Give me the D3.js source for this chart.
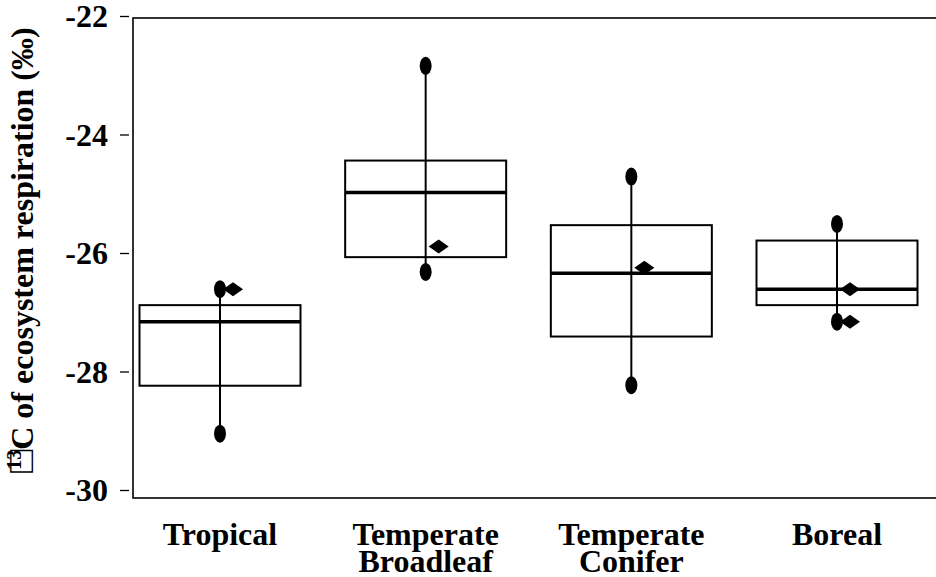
<!DOCTYPE html>
<html>
<head>
<meta charset="utf-8">
<script src="https://cdn.jsdelivr.net/npm/d3@7"></script>
<style>
  body { margin: 0; background: #fff; }
  text { font-family: "Liberation Serif", "Times New Roman", serif; font-weight: bold; fill: #000; }
</style>
</head>
<body>
<div id="chart"></div>
<script>
// values
var categories = ["Tropical", "Temperate Broadleaf", "Temperate Conifer", "Boreal"];
var boxLow    = [-28.24, -26.07, -27.41, -26.88];
var boxHigh   = [-26.88, -24.44, -25.53, -25.79];
var medians   = [-27.16, -24.98, -26.34, -26.61];
var pointHigh = [-26.61, -22.84, -24.71, -25.51];
var pointLow  = [-29.05, -26.32, -28.23, -27.16];
var diamondCat = ["Tropical", "Temperate Broadleaf", "Temperate Conifer", "Boreal", "Boreal"];
var diamondVal = [-26.61, -25.89, -26.25, -26.61, -27.16];
var yTicks = [-22, -24, -26, -28, -30];

var width = 936, height = 577;

var svg = d3.select("#chart")
  .append("svg")
  .attr("width", width)
  .attr("height", height);

var x = d3.scalePoint()
  .domain(categories)
  .range([220, 837]);

var y = d3.scaleLinear()
  .domain([-30, -22])
  .range([490, 16]);

var boxW = 161;

// frame (right edge runs off the picture)
svg.append("rect")
  .attr("x", 133)
  .attr("y", 18)
  .attr("width", 820)
  .attr("height", 480)
  .attr("fill", "none")
  .attr("stroke", "#000")
  .attr("stroke-width", 1.6);

// y axis: ticks sit outside the frame with a small gap
var yAxis = d3.axisLeft(y)
  .tickValues(yTicks)
  .tickSize(9)
  .tickPadding(12)
  .tickFormat(function(d) { return String(d); });

var ga = svg.append("g")
  .attr("transform", "translate(129,0)")
  .call(yAxis);
ga.select(".domain").remove();
ga.selectAll(".tick line").attr("stroke", "#000").attr("stroke-width", 1.3);
ga.selectAll(".tick text")
  .attr("font-size", 32)
  .attr("font-family", "Liberation Serif")
  .attr("font-weight", "bold")
  .attr("fill", "#000")
  .attr("dy", "0.34em");

// y title
var yt = svg.append("text")
  .attr("transform", "translate(33,250) rotate(-90)")
  .attr("text-anchor", "middle")
  .attr("font-size", 32);
yt.append("tspan").attr("font-size", 38).attr("font-weight", "normal").text("\u25A1");
yt.append("tspan").attr("font-size", 20).attr("dy", -12).attr("dx", -20).text("13");
yt.append("tspan").attr("dy", 12).text("C of ecosystem respiration (\u2030)");

// category labels
var gl = svg.append("g");
categories.forEach(function(c) {
  var words = c.split(" ");
  var t = gl.append("text")
    .attr("x", x(c))
    .attr("y", 545)
    .attr("text-anchor", "middle")
    .attr("font-size", 32);
  words.forEach(function(w, i) {
    t.append("tspan")
      .attr("x", x(c))
      .attr("dy", i === 0 ? 0 : 27)
      .text(w);
  });
});

// boxes
var g = svg.append("g");
categories.forEach(function(c, i) {
  var cx = x(c);
  g.append("rect")
    .attr("x", cx - boxW / 2)
    .attr("y", y(boxHigh[i]))
    .attr("width", boxW)
    .attr("height", y(boxLow[i]) - y(boxHigh[i]))
    .attr("fill", "none")
    .attr("stroke", "#000")
    .attr("stroke-width", 2);
  g.append("line")
    .attr("x1", cx - boxW / 2).attr("x2", cx + boxW / 2)
    .attr("y1", y(medians[i])).attr("y2", y(medians[i]))
    .attr("stroke", "#000")
    .attr("stroke-width", 3.5);
  g.append("line")
    .attr("x1", cx).attr("x2", cx)
    .attr("y1", y(pointHigh[i])).attr("y2", y(pointLow[i]))
    .attr("stroke", "#000")
    .attr("stroke-width", 2);
  [pointHigh[i], pointLow[i]].forEach(function(v) {
    g.append("ellipse")
      .attr("cx", cx)
      .attr("cy", y(v))
      .attr("rx", 6)
      .attr("ry", 9)
      .attr("fill", "#000");
  });
});

// diamonds
diamondVal.forEach(function(v, i) {
  var cx = x(diamondCat[i]) + 13, cy = y(v);
  g.append("path")
    .attr("d", "M" + (cx - 10) + "," + cy + "L" + cx + "," + (cy - 7) + "L" + (cx + 10) + "," + cy + "L" + cx + "," + (cy + 7) + "Z")
    .attr("fill", "#000");
});
</script>
</body>
</html>
